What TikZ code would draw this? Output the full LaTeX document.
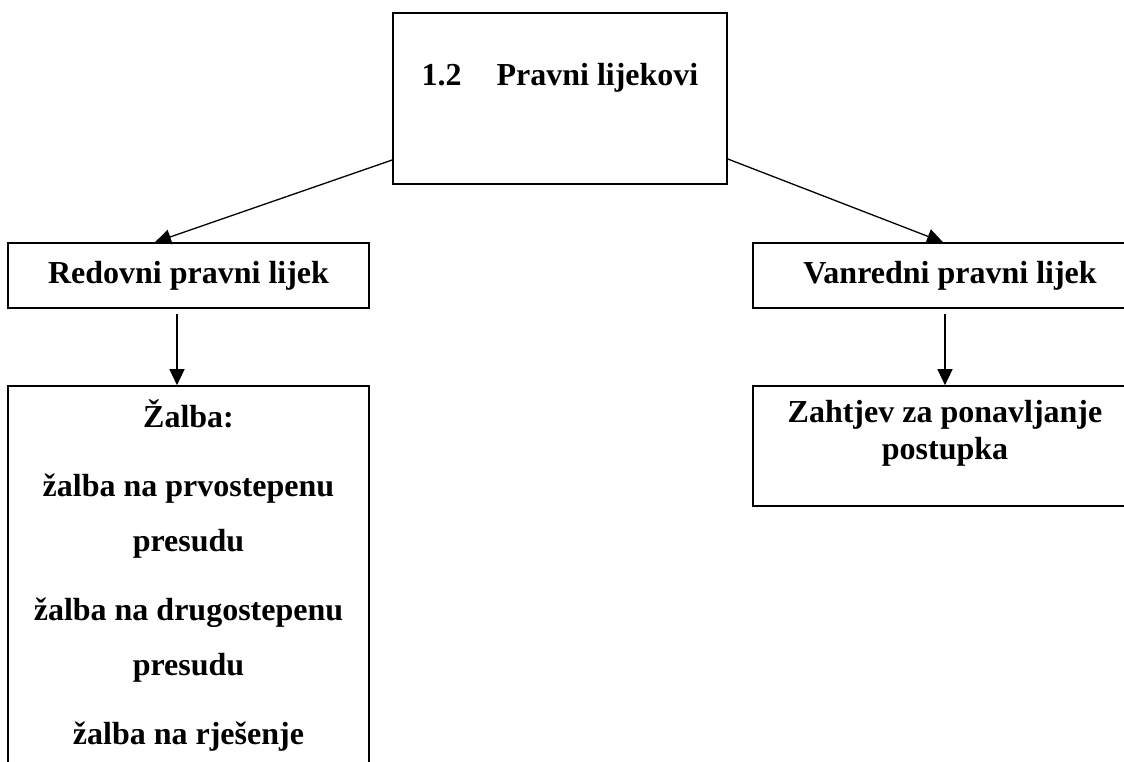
\documentclass[tikz,border=0pt]{standalone}
\usepackage{fontspec}
\setmainfont{Liberation Serif}
\usetikzlibrary{arrows.meta}
\tikzset{
  box/.style={draw=black, line width=1.6pt, inner sep=0pt, fill=white},
  lbl/.style={font=\bfseries\fontsize{32}{37}\selectfont},
  arr/.style={draw=black, line width=1.3pt, -{Triangle[length=16pt,width=15pt]}},
}
\begin{document}
\begin{tikzpicture}[x=1pt,y=-1pt]
\useasboundingbox (0,0) rectangle (1124,762);
\clip (0,0) rectangle (1124,762);
% top box
\node[box, lbl, minimum width=334pt, minimum height=171pt, text height=22pt, text depth=47pt]
  (top) at (560,98.5) {1.2\hspace{35pt}Pravni lijekovi};
% second level
\node[box, lbl, minimum width=361pt, minimum height=65pt] (redovni) at (188.5,275.5) {Redovni pravni lijek};
\node[box, lbl, minimum width=394pt, minimum height=65pt] (vanredni) at (950,275.5) {Vanredni pravni lijek};
% third level
\node[box, minimum width=361pt, minimum height=414pt] (zalba) at (188.5,593) {};
\node[lbl, font=\bfseries\fontsize{32}{55}\selectfont, align=center, anchor=north, inner sep=0pt]
  (zalbatxt) at (188.5,388.5)
  {\strut Žalba:\\[14pt]
   žalba na prvostepenu\\
   presudu\\[14pt]
   žalba na drugostepenu\\
   presudu\\[14pt]
   žalba na rješenje};
\node[box, minimum width=384pt, minimum height=120pt] (zahtjev) at (945,446) {};
\node[lbl, align=center, anchor=north, inner sep=0pt]
  (zahtjevtxt) at (945,396.1)
  {\strut Zahtjev za ponavljanje\\postupka};
% connectors
\draw[arr] ([yshift=-61.5pt]top.west) -- ([xshift=-33.5pt]redovni.north);
\draw[arr] ([yshift=-60.5pt]top.east) -- ([xshift=-7pt]vanredni.north);
\draw[arr] ([xshift=-11.5pt,yshift=-5pt]redovni.south) -- ([xshift=-11.5pt]zalba.north);
\draw[arr] ([xshift=-5pt,yshift=-5pt]vanredni.south) -- (zahtjev.north);
\end{tikzpicture}
\end{document}
